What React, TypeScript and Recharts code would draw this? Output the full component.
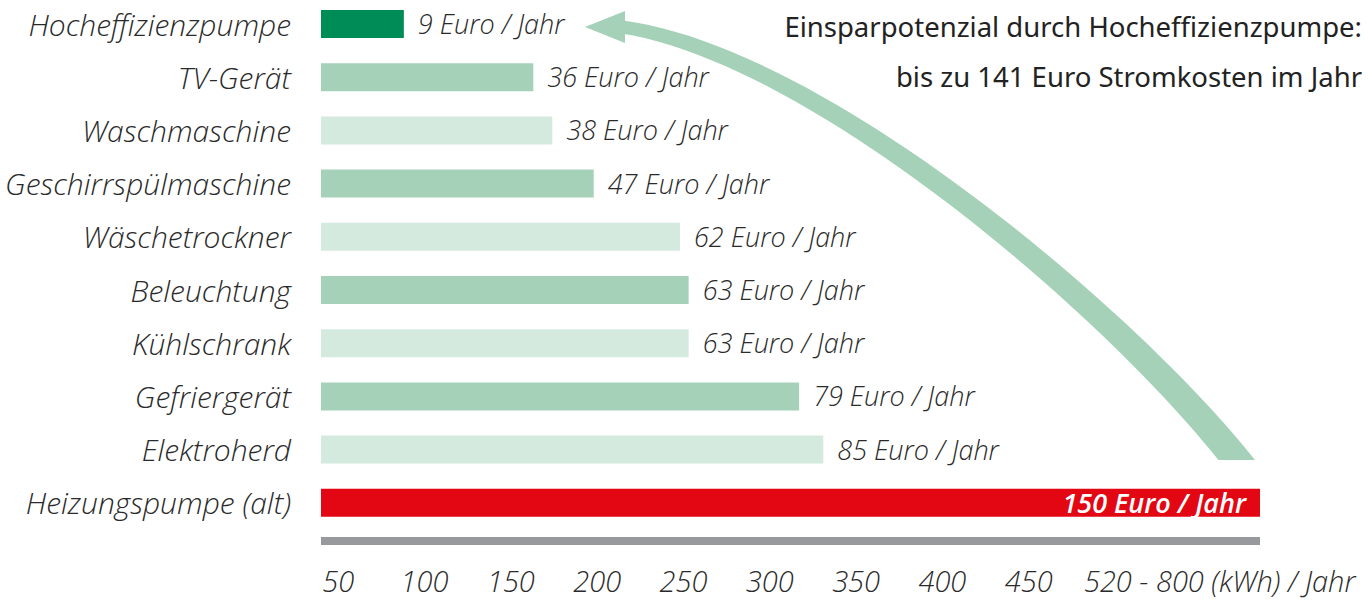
import React from "react";
import { BarChart, Bar, XAxis, YAxis, Cell, LabelList } from "recharts";

const categories = [
  "Hocheffizienzpumpe",
  "TV-Gerät",
  "Waschmaschine",
  "Geschirrspülmaschine",
  "Wäschetrockner",
  "Beleuchtung",
  "Kühlschrank",
  "Gefriergerät",
  "Elektroherd",
  "Heizungspumpe (alt)",
];

// bar lengths
const kwhValues = [88, 163, 174, 198, 248, 253, 253, 317, 331, 584];
const euroPerYear = [9, 36, 38, 47, 62, 63, 63, 79, 85, 150];

const barColors = [
  "#008c57",
  "#a5d1b9",
  "#d4eadf",
  "#a5d1b9",
  "#d4eadf",
  "#a5d1b9",
  "#d4eadf",
  "#a5d1b9",
  "#d4eadf",
  "#e30613",
];

const axisTicks = [50, 100, 150, 200, 250, 300, 350, 400, 450, 482];
const axisTickLabels = ["50", "100", "150", "200", "250", "300", "350", "400", "450", "520 - 800 (kWh) / Jahr"];

const titleLines = ["Einsparpotenzial durch Hocheffizienzpumpe:", "bis zu 141 Euro Stromkosten im Jahr"];

const data = categories.map((name, i) => ({
  name,
  kwh: kwhValues[i],
  euro: euroPerYear[i],
}));

const LABEL_FONT = '"Open Sans", "Noto Sans", sans-serif';
const TEXT_COLOR = "#2a2a2a";

const CategoryTick = (props: any) => {
  const { x, y, payload } = props;
  return (
    <text
      x={x}
      y={y}
      dy={12}
      textAnchor="end"
      fontFamily={LABEL_FONT}
      fontStyle="italic"
      fontWeight={300}
      fontSize={30}
      fill={TEXT_COLOR}
    >
      {payload.value}
    </text>
  );
};

const KwhTick = (props: any) => {
  const { x, y, payload, index } = props;
  const last = index === axisTicks.length - 1;
  return (
    <text
      x={x}
      y={y}
      dy={43}
      textAnchor={last ? "start" : "middle"}
      fontFamily={LABEL_FONT}
      fontStyle="italic"
      fontWeight={300}
      fontSize={29}
      fill={TEXT_COLOR}
    >
      {axisTickLabels[axisTicks.indexOf(payload.value)]}
    </text>
  );
};

const EuroLabel = (props: any) => {
  const { x, y, width, height, value, index } = props;
  const inside = index === data.length - 1;
  return (
    <text
      x={inside ? x + width - 14 : x + width + 14}
      y={y + height / 2}
      dy={10}
      textAnchor={inside ? "end" : "start"}
      fontFamily={LABEL_FONT}
      fontStyle="italic"
      fontWeight={inside ? 600 : 300}
      fontSize={27}
      fill={inside ? "#ffffff" : TEXT_COLOR}
    >
      {value} Euro / Jahr
    </text>
  );
};

function SavingsArrow() {
  // decorative curved arrow from the old pump bar up to the efficient pump
  const p0 = [1246, 472];
  const p1 = [1130, 320];
  const p2 = [820, 55];
  const p3 = [622, 27];
  const n = 48;
  const left: string[] = [];
  const right: string[] = [];
  for (let i = 0; i <= n; i++) {
    const t = i / n;
    const a = (1 - t) ** 3, b = 3 * (1 - t) ** 2 * t, c = 3 * (1 - t) * t * t, d = t ** 3;
    const px = a * p0[0] + b * p1[0] + c * p2[0] + d * p3[0];
    const py = a * p0[1] + b * p1[1] + c * p2[1] + d * p3[1];
    const db0 = -3 * (1 - t) ** 2, db1 = 3 * ((1 - t) ** 2 - 2 * t * (1 - t)), db2 = 3 * (2 * t * (1 - t) - t * t), db3 = 3 * t * t;
    const dx = db0 * p0[0] + db1 * p1[0] + db2 * p2[0] + db3 * p3[0];
    const dy = db0 * p0[1] + db1 * p1[1] + db2 * p2[1] + db3 * p3[1];
    const len = Math.hypot(dx, dy);
    const w = (29 - 16 * t) / 2;
    const nx = -dy / len, ny = dx / len;
    left.push(`${px + nx * w},${py + ny * w}`);
    right.push(`${px - nx * w},${py - ny * w}`);
  }
  const body = `M${left.join(" L")} L${right.reverse().join(" L")} Z`;
  return (
    <svg width={1369} height={600} style={{ position: "absolute", left: 0, top: 0, pointerEvents: "none" }}>
      <defs>
        <clipPath id="arrowClip">
          <rect x={0} y={0} width={1369} height={460} />
        </clipPath>
      </defs>
      <path d={body} fill="#a5d1b9" clipPath="url(#arrowClip)" />
      <path d="M585,27 L625,11 L625,43 Z" fill="#a5d1b9" />
    </svg>
  );
}

export default function App() {
  return (
    <div style={{ position: "absolute", left: 0, top: 0, width: 1369, height: 600, background: "#fff", overflow: "hidden" }}>
      <div style={{ position: "absolute", left: 0, top: -3 }}>
        <BarChart
          width={1369}
          height={603}
          data={data}
          layout="vertical"
          margin={{ top: 0, right: 109, bottom: 0, left: 0 }}
        >
          <XAxis
            type="number"
            dataKey="kwh"
            domain={[40, 584]}
            allowDataOverflow
            ticks={axisTicks}
            interval={0}
            tick={<KwhTick />}
            tickLine={false}
            axisLine={{ stroke: "#98999d", strokeWidth: 8 }}
            height={59}
          />
          <YAxis
            type="category"
            dataKey="name"
            width={321}
            axisLine={false}
            tickLine={false}
            tickMargin={24}
            tick={<CategoryTick />}
            padding={{ top: 0, bottom: 12 }}
          />
          <Bar dataKey="kwh" barSize={28} isAnimationActive={false}>
            {data.map((d, i) => (
              <Cell key={d.name} fill={barColors[i]} />
            ))}
            <LabelList dataKey="euro" content={<EuroLabel />} />
          </Bar>
        </BarChart>
      </div>
      <SavingsArrow />
      <div
        style={{
          position: "absolute",
          right: 7,
          top: 2,
          textAlign: "right",
          fontFamily: '"Noto Sans", sans-serif',
          fontSize: 27.5,
          fontWeight: 400,
          lineHeight: "50px",
          color: "#222",
        }}
      >
        {titleLines.map((l) => (
          <div key={l}>{l}</div>
        ))}
      </div>
    </div>
  );
}
